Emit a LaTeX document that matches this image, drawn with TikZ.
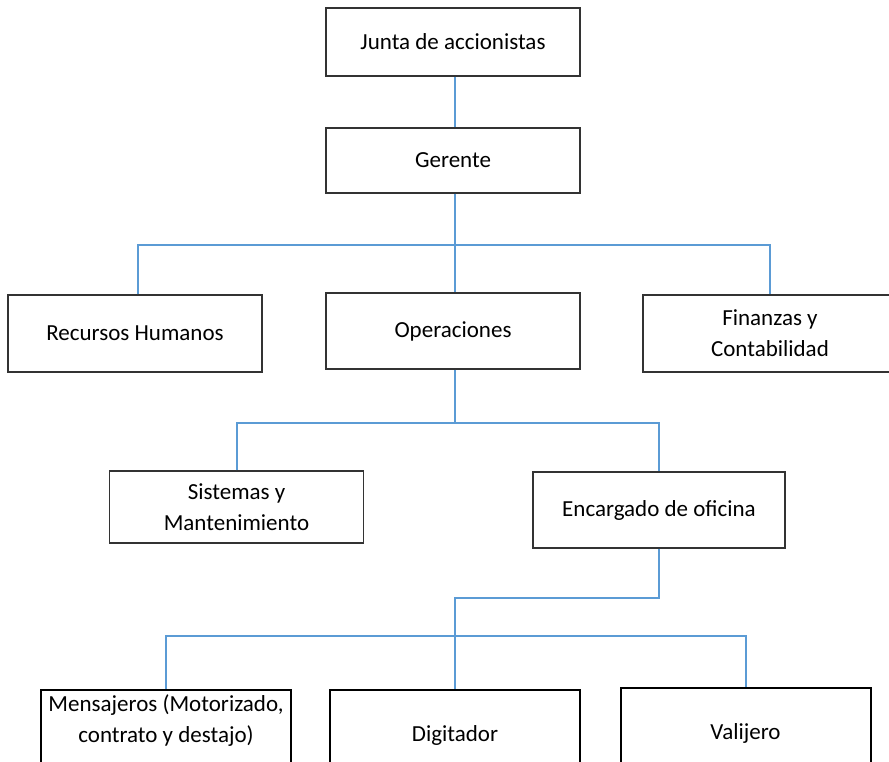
\documentclass[tikz,border=0pt]{standalone}
\usepackage{fontspec}
\setmainfont{Carlito}
\usetikzlibrary{positioning}
\definecolor{linea}{RGB}{91,155,213}

\begin{document}
\begin{tikzpicture}[
x=1pt, y=-1pt,
caja/.style={draw=black!80, line width=1.3pt, minimum width=254pt, 
  inner sep=0pt, align=center, font=\fontsize{23}{31}\selectfont}, 
cajab/.style={caja, draw=black, line width=2pt, minimum width=250pt, 
  minimum height=90pt}, 
enlace/.style={draw=linea, line width=2pt}]
\useasboundingbox (0,0) rectangle (889,762);
\clip (0,0) rectangle (889,762);

% niveles superiores
\node[caja, minimum height=68pt] (junta) at (453,42) {Junta de accionistas};
\node[caja, minimum height=65pt] (ger) at (453,160.5) {Gerente};
\node[caja, minimum height=77pt] (rrhh) at (135,333.5) {Recursos Humanos};
\node[caja, minimum height=76pt] (ope) at (453,331) {Operaciones};
\node[caja, minimum height=77pt] (fin) at (770,333.5) {Finanzas y\\Contabilidad};
\node[caja, minimum height=72pt] (sis) at (236.5,507) {Sistemas y\\Mantenimiento};
\node[caja, minimum height=76pt, minimum width=252pt] (enc) at (659,510) {Encargado de oficina};

% ultimo nivel
\node[cajab, text height=52pt, text depth=38pt] (msj) at (166,735) 
  {Mensajeros (Motorizado,\\contrato y destajo)};
\node[cajab] (dig) at (455,735) {Digitador};
\node[cajab] (val) at (745.5,733) {Valijero};

\coordinate (b1) at (455,245);
\coordinate (b2) at (455,423);
\coordinate (b3) at (455,636);

% conectores
\draw[enlace] (junta.south -| b1) -- (ger.north -| b1);
\draw[enlace] (ger.south -| b1) -- (ope.north -| b1);
\draw[enlace] (138,0 |- rrhh.north) -- (138,0 |- b1) -- (fin.north |- b1) -- (fin.north);
\draw[enlace] (ope.south -| b2) -- (b2);
\draw[enlace] (sis.north) -- (sis.north |- b2) -- (enc.north |- b2) -- (enc.north);
\draw[enlace] (enc.south) -- ++(0,49) -| (dig.north);
\draw[enlace] (msj.north) -- (msj.north |- b3) -- (val.north |- b3) -- (val.north);
\end{tikzpicture}
\end{document}
